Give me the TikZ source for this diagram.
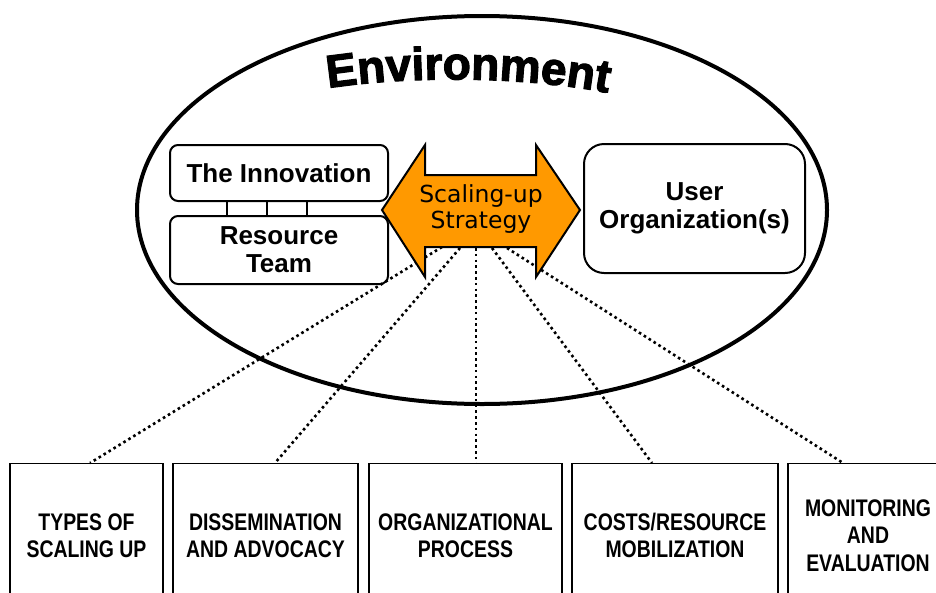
\documentclass[tikz,border=0pt]{standalone}
\usepackage{fontspec}
\setmainfont{Liberation Sans}
\newfontfamily\envfont[FakeBold=2.5]{Liberation Sans Bold}
\newfontfamily\narrowfont[FakeStretch=0.81]{Liberation Sans Bold}
\newfontfamily\verfont{DejaVu Sans}
\usetikzlibrary{decorations.text}
\definecolor{arroworange}{HTML}{FF9900}
\begin{document}
\begin{tikzpicture}[x=1pt,y=-1pt,
  rbox/.style={draw, line width=2pt, rounded corners=8pt, align=center, inner sep=0pt,
    font=\bfseries\fontsize{26}{28}\selectfont},
  bbox/.style={draw, line width=1.2pt, anchor=north, minimum height=144pt, align=center,
    inner sep=0pt, font=\narrowfont\fontsize{24}{27.5}\selectfont},
  dotline/.style={line width=2.6pt, dash pattern=on 2.6pt off 3.2pt},
  arrowshape/.style={draw, line width=2pt, fill=arroworange, line join=miter},
  tie/.style={line width=2.2pt}]
\useasboundingbox (0,0) rectangle (936,592);
\clip (0,0) rectangle (936,592);

% environment ellipse
\draw[line width=4pt] (482,210) ellipse [x radius=345, y radius=194];

% arched title
\path[decorate, decoration={text along path, text align=center,
  text={|\envfont\fontsize{46}{46}\selectfont|Environment}}]
  (322,89) .. controls (410,75) and (525,76) .. (614,94);

% bottom boxes
\node[bbox, minimum width=153pt] (b1) at (86.5,463) {TYPES OF\\SCALING UP};
\node[bbox, minimum width=185pt] (b2) at (265.5,463) {DISSEMINATION\\AND ADVOCACY};
\node[bbox, minimum width=193pt] (b3) at (465.5,463) {ORGANIZATIONAL\\PROCESS};
\node[bbox, minimum width=206pt] (b4) at (675,463) {COSTS/RESOURCE\\MOBILIZATION};
\node[bbox, minimum width=160pt] (b5) at (868,463) {MONITORING\\AND\\EVALUATION};

% origins of dotted connectors at the arrow's lower edge
\coordinate (o1) at (442,247);
\coordinate (o2) at (460,248);
\coordinate (o3) at (476,248);
\coordinate (o4) at (492,248);
\coordinate (o5) at (507,248);
\draw[dotline] (o1) -- ([xshift=3.5pt]b1.north);
\draw[dotline] (o2) -- ([xshift=9.5pt]b2.north);
\draw[dotline] (o3) -- ([xshift=10.5pt]b3.north);
\draw[dotline] (o4) -- ([xshift=-23pt]b4.north);
\draw[dotline] (o5) -- ([xshift=-25pt]b5.north);

% double arrow
\draw[arrowshape] (382,210) -- (425,145) -- (425,175) -- (536,175) -- (536,145)
  -- (580,210) -- (536,277) -- (536,247) -- (425,247) -- (425,277) -- cycle;
\node[font=\verfont\fontsize{23.5}{26}\selectfont, align=center, inner sep=0pt]
  (strat) at (481,209) {Scaling-up\\Strategy};

% rounded boxes
\node[rbox, minimum width=218pt, minimum height=56pt] (innov) at (279,173) {The Innovation};
\node[rbox, minimum width=218pt, minimum height=68pt] (team) at (279,250) {Resource\\Team};
\node[rbox, rounded corners=20pt, minimum width=221pt, minimum height=129pt]
  (user) at (694.5,208.5) {User\\Organization(s)};

% ties between innovation and resource team
\draw[tie] ([xshift=-52pt]innov.south) -- ([xshift=-52pt]team.north);
\draw[tie] ([xshift=-12pt]innov.south) -- ([xshift=-12pt]team.north);
\draw[tie] ([xshift=28pt]innov.south) -- ([xshift=28pt]team.north);
\end{tikzpicture}
\end{document}
